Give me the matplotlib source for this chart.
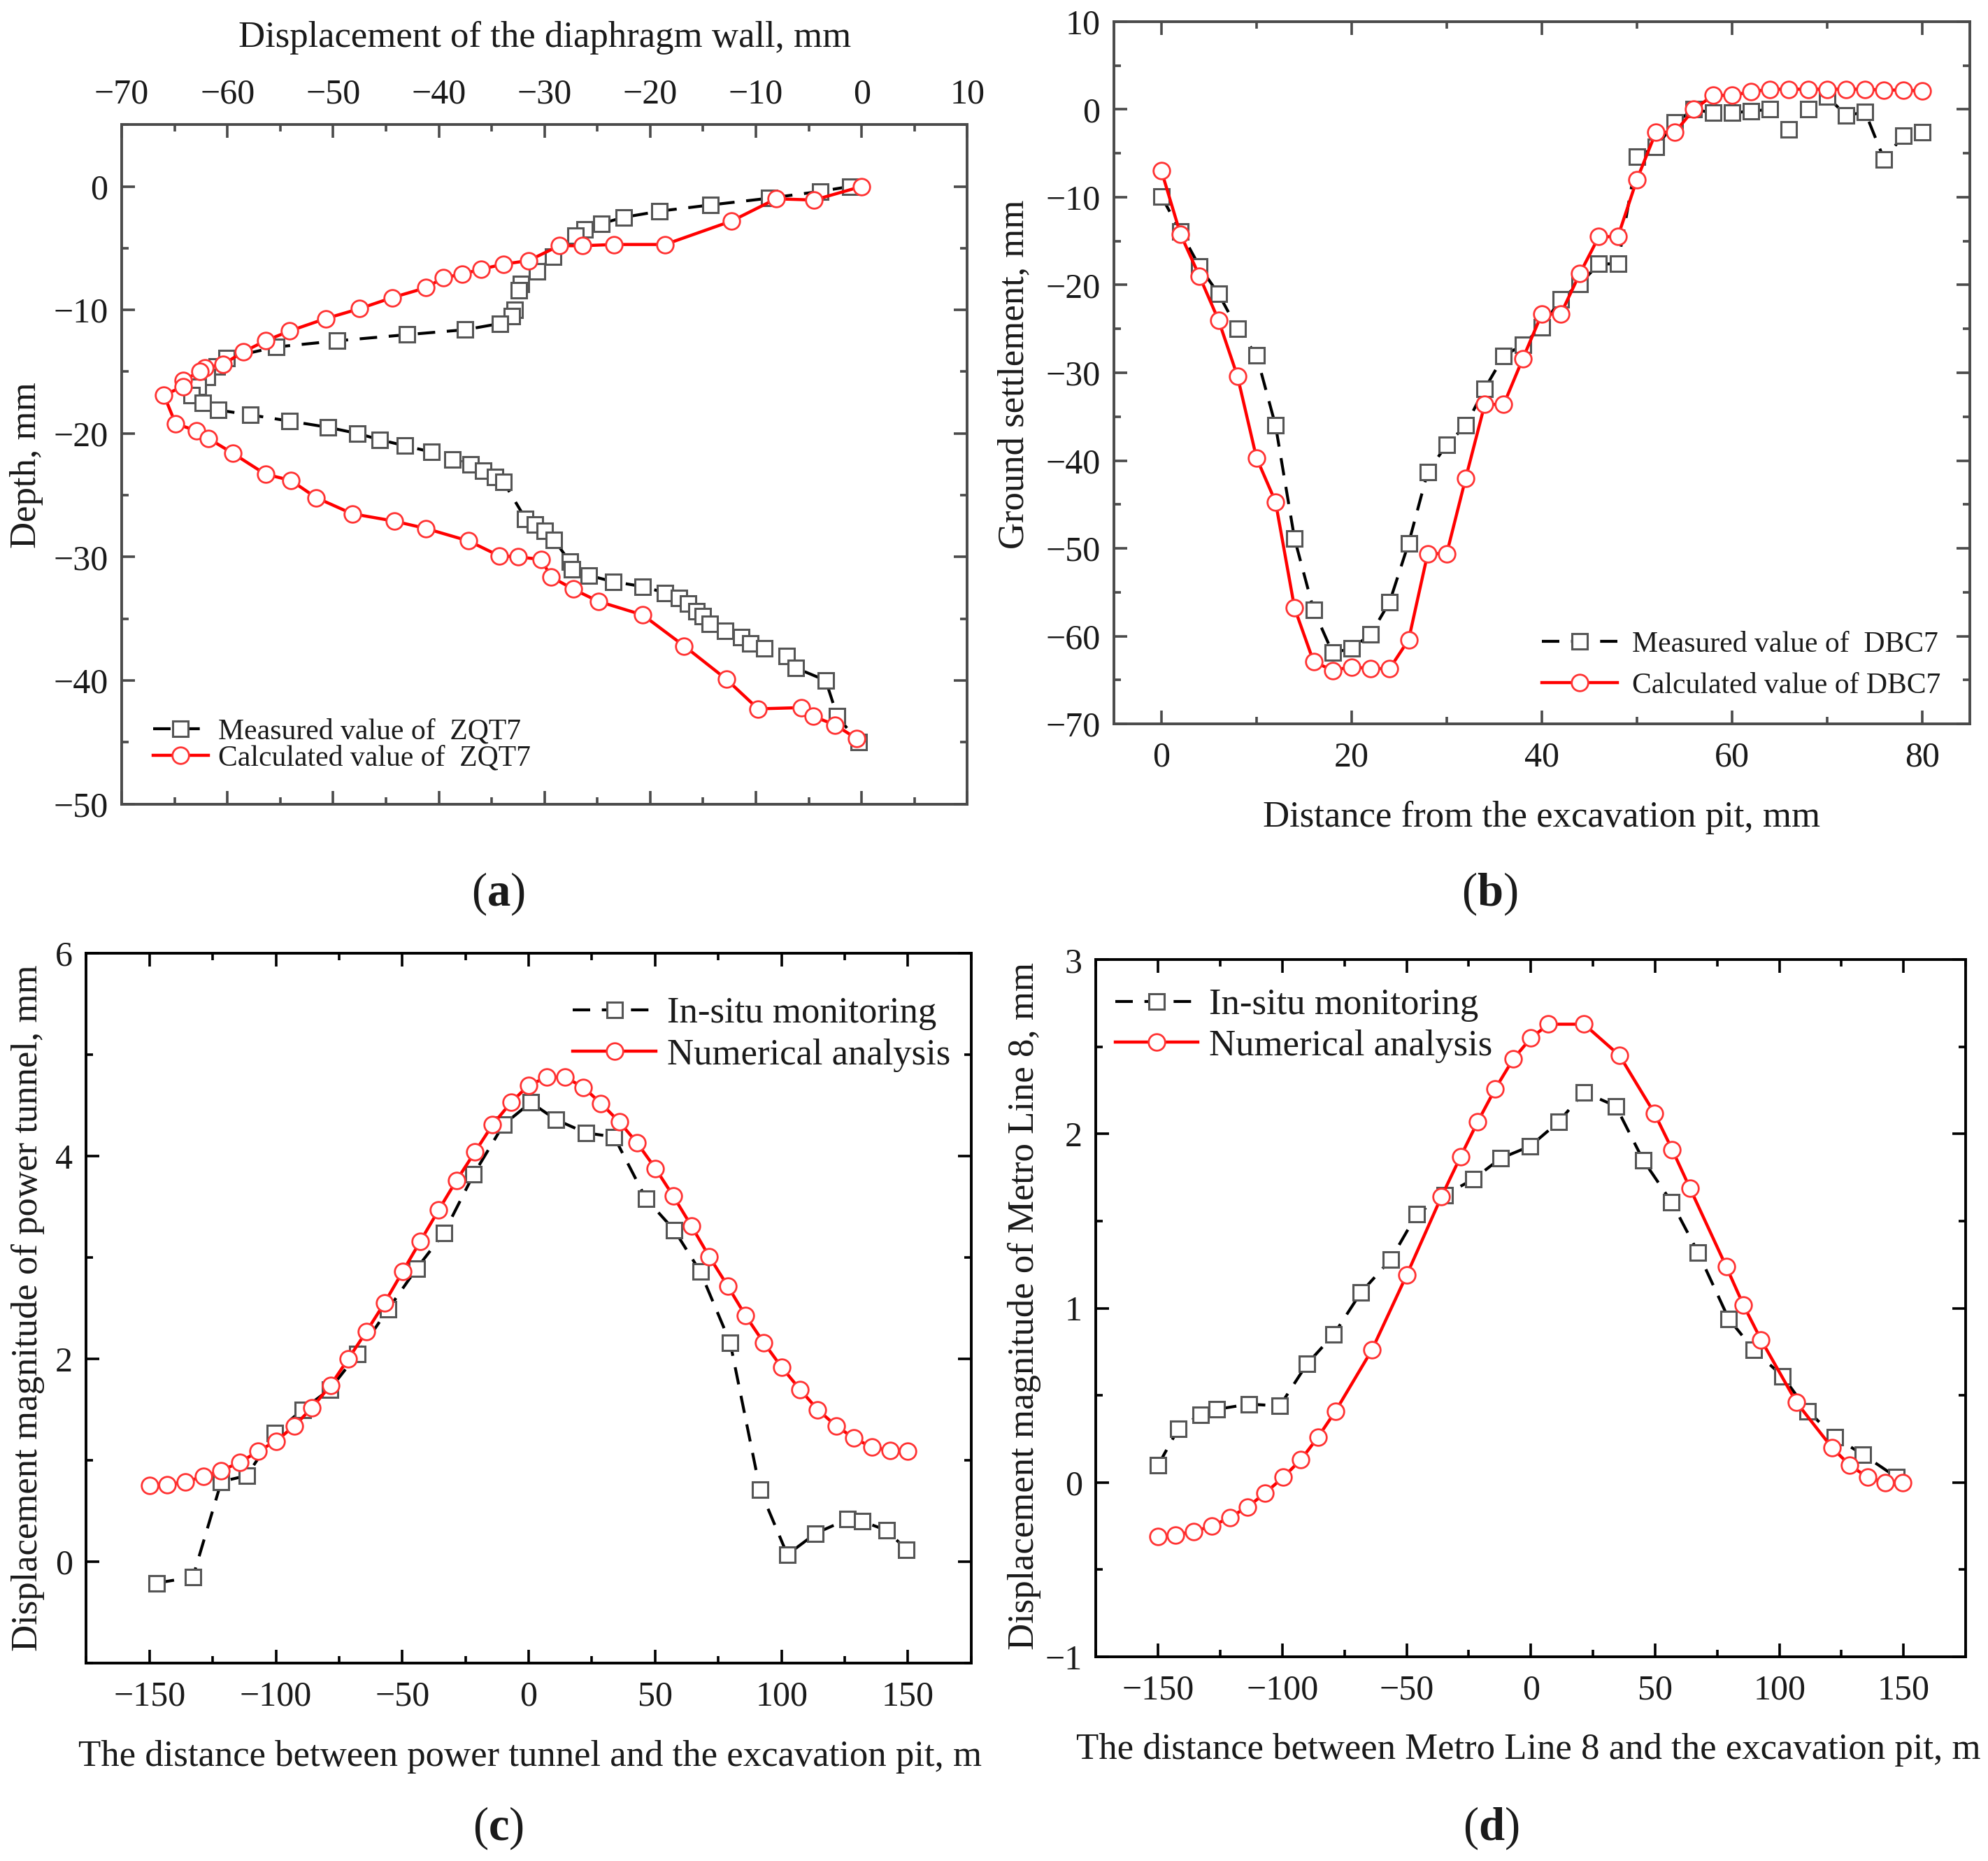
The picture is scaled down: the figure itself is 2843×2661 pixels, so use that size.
import matplotlib
matplotlib.use("Agg")
import matplotlib.pyplot as plt
from matplotlib.ticker import MultipleLocator

plt.rcParams['font.family'] = ['Liberation Serif', 'DejaVu Serif']
plt.rcParams['mathtext.fontset'] = 'custom'
plt.rcParams['mathtext.rm'] = 'Liberation Serif'
plt.rcParams['mathtext.bf'] = 'Liberation Serif:bold'

# (a) diaphragm wall ZQT7
zqt7_meas_disp = [-1.1, -3.9, -8.75, -14.3, -19.1, -22.5, -24.6, -26.2, -27.1, -29.2, -30.7,
                  -32.2, -32.4, -32.8, -33.1, -34.2, -37.5, -43.0, -49.6, -55.4, -60.1, -61.0,
                  -61.9, -62.8, -63.4, -62.3, -60.9, -57.8, -54.1, -50.5, -47.7, -45.6, -43.2,
                  -40.7, -38.7, -37.0, -35.8, -34.7, -33.9, -31.8, -30.9, -30.0, -29.1, -27.6,
                  -27.4, -25.8, -23.5, -20.7, -18.6, -17.3, -16.4, -15.6, -15.0, -14.4, -12.9,
                  -11.4, -10.5, -9.2, -7.1, -6.2, -3.4, -2.3, -0.3]
zqt7_meas_depth = [0, -0.4, -0.95, -1.5, -2.0, -2.5, -3.0, -3.5, -4.0, -5.7, -6.9,
                   -7.9, -8.4, -10.0, -10.5, -11.1, -11.6, -12.0, -12.5, -13.0, -13.9, -14.6,
                   -15.4, -16.2, -16.9, -17.5, -18.1, -18.5, -19.0, -19.5, -20.0, -20.5, -21.0,
                   -21.5, -22.1, -22.5, -23.0, -23.5, -23.9, -26.9, -27.4, -27.9, -28.6, -30.4,
                   -31.0, -31.5, -32.0, -32.4, -32.9, -33.3, -33.8, -34.4, -34.8, -35.4, -36.0,
                   -36.5, -37.0, -37.4, -38.0, -39.0, -40.0, -42.9, -45.0]
zqt7_calc_disp = [0, -4.5, -8.1, -12.3, -18.6, -23.4, -26.4, -28.6, -31.5, -33.9, -36.0,
                  -37.8, -39.6, -41.2, -44.4, -47.5, -50.7, -54.1, -56.4, -58.5, -60.4, -62.1,
                  -62.6, -64.2, -64.2, -66.0, -64.9, -62.9, -61.8, -59.5, -56.4, -54.0, -51.6,
                  -48.2, -44.2, -41.2, -37.2, -34.3, -32.5, -30.3, -29.4, -27.3, -24.9, -20.7,
                  -16.8, -12.8, -9.8, -5.7, -4.6, -2.5, -0.5]
zqt7_calc_depth = [0, -1.1, -1.0, -2.8, -4.7, -4.7, -4.8, -4.8, -6.0, -6.3, -6.7,
                   -7.1, -7.4, -8.2, -9.0, -9.9, -10.7, -11.7, -12.5, -13.4, -14.4, -14.7,
                   -15.0, -15.7, -16.2, -16.9, -19.2, -19.8, -20.4, -21.6, -23.3, -23.8, -25.2,
                   -26.5, -27.1, -27.7, -28.7, -29.9, -30.0, -30.2, -31.6, -32.6, -33.6, -34.7,
                   -37.2, -39.9, -42.3, -42.2, -42.9, -43.6, -44.7]

# (b) ground settlement DBC7
dbc7_dist = [0, 2, 4, 6, 8, 10, 12, 14, 16, 18, 20, 22, 24, 26, 28, 30, 32, 34, 36, 38, 40,
             42, 44, 46, 48, 50, 52, 54, 56, 58, 60, 62, 64, 66, 68, 70, 72, 74, 76, 78, 80]
dbc7_meas = [-9.9, -13.9, -17.9, -21.0, -25.0, -28.0, -36.0, -48.9, -57.0, -61.9, -61.4,
             -59.8, -56.1, -49.4, -41.3, -38.2, -36.0, -31.8, -28.1, -26.8, -24.8, -21.6,
             -19.9, -17.6, -17.6, -5.4, -4.3, -1.5, 0.0, -0.4, -0.4, -0.2, 0.0, -2.3, 0.0,
             1.5, -0.7, -0.3, -5.7, -3.0, -2.6]
dbc7_calc = [-7.0, -14.2, -19.0, -24.0, -30.4, -39.7, -44.7, -56.8, -62.9, -63.9, -63.5,
             -63.7, -63.7, -60.4, -50.6, -50.6, -42.0, -33.6, -33.6, -28.4, -23.3, -23.3,
             -18.7, -14.5, -14.5, -8.0, -2.6, -2.6, 0.0, 1.6, 1.6, 2.0, 2.3, 2.3, 2.3, 2.3,
             2.3, 2.3, 2.2, 2.2, 2.1]

# (c) power tunnel
pt_meas_x = [-147.1, -132.8, -121.6, -111.5, -100.3, -89.5, -78.7, -67.7, -55.6, -44.4,
             -33.6, -21.8, -10.0, 0.8, 10.8, 22.6, 33.8, 46.4, 57.6, 67.9, 79.7, 91.5,
             102.3, 113.5, 126.1, 131.8, 141.6, 149.4]
pt_meas_y = [-0.21, -0.15, 0.79, 0.85, 1.27, 1.50, 1.70, 2.05, 2.49, 2.89, 3.24, 3.82,
             4.31, 4.53, 4.36, 4.23, 4.19, 3.58, 3.27, 2.86, 2.16, 0.71, 0.07, 0.28, 0.42,
             0.40, 0.31, 0.12]
pt_calc_x = [-150.0, -142.9, -135.8, -128.6, -121.6, -114.3, -107.0, -100.0, -92.7, -85.7,
             -78.4, -71.4, -64.2, -57.1, -49.9, -42.9, -35.6, -28.6, -21.3, -14.3, -7.0,
             0.0, 7.3, 14.3, 21.6, 28.6, 35.8, 42.9, 50.1, 57.1, 64.4, 71.4, 78.7, 85.7,
             93.0, 100.0, 107.3, 114.3, 121.6, 128.6, 135.8, 142.9, 150.0]
pt_calc_y = [0.75, 0.76, 0.79, 0.84, 0.90, 0.98, 1.09, 1.19, 1.34, 1.52, 1.74, 2.00, 2.27,
             2.55, 2.86, 3.16, 3.47, 3.76, 4.04, 4.31, 4.53, 4.70, 4.78, 4.78, 4.68, 4.52,
             4.34, 4.13, 3.88, 3.61, 3.31, 3.01, 2.72, 2.43, 2.16, 1.92, 1.70, 1.50, 1.34,
             1.22, 1.13, 1.10, 1.09]

# (d) Metro Line 8
m8_meas_x = [-150.0, -141.8, -132.9, -126.5, -113.5, -101.0, -90.1, -79.3, -68.4, -56.4,
             -45.9, -34.7, -23.2, -12.2, -0.3, 11.2, 21.4, 34.2, 45.2, 56.6, 67.3, 79.6,
             89.8, 101.3, 111.5, 122.4, 133.7, 147.2]
m8_meas_y = [0.10, 0.31, 0.39, 0.42, 0.45, 0.44, 0.68, 0.85, 1.09, 1.28, 1.54, 1.65, 1.74,
             1.86, 1.93, 2.07, 2.24, 2.16, 1.85, 1.61, 1.32, 0.94, 0.76, 0.61, 0.41, 0.26,
             0.16, 0.03]
m8_calc_x = [-150.0, -142.9, -135.7, -128.3, -121.2, -114.0, -106.9, -99.7, -92.6, -85.7,
             -78.6, -64.0, -50.0, -36.0, -28.3, -21.4, -14.3, -7.1, 0.0, 7.1, 21.4, 35.7,
             49.7, 56.9, 64.0, 78.6, 85.5, 92.6, 106.9, 121.2, 128.3, 135.5, 142.6, 149.7]
m8_calc_y = [-0.31, -0.30, -0.28, -0.25, -0.20, -0.14, -0.06, 0.03, 0.13, 0.26, 0.41, 0.76,
             1.19, 1.64, 1.87, 2.07, 2.26, 2.43, 2.55, 2.63, 2.63, 2.45, 2.12, 1.91, 1.69,
             1.24, 1.02, 0.82, 0.46, 0.20, 0.10, 0.03, 0.0, 0.0]

TXT = '#1a1a1a'
TICK_FS = 36
LAB_FS = 38
TAG_FS = 48

meas_style = dict(color='black', lw=3.0, ls=(0, (6, 4)), marker='s', ms=16,
                  mfc='white', mec='#555555', mew=2.2)
calc_style = dict(color='#ff0000', lw=3.2, ls='-', marker='o', ms=17,
                  mfc='white', mec='#ff3333', mew=2.0)


def style_axes(ax, spine_color, top_labels=False):
    for sp in ax.spines.values():
        sp.set_linewidth(2.8)
        sp.set_color(spine_color)
    ax.tick_params(which='both', direction='in', top=True, right=True,
                   colors=spine_color, labelcolor=TXT, labelsize=TICK_FS, width=2.6)
    ax.tick_params(which='major', length=14, pad=14)
    ax.tick_params(which='minor', length=7)
    if top_labels:
        ax.tick_params(labeltop=True, labelbottom=False)


fig = plt.figure(figsize=(28.43, 26.61), dpi=100)

# ---- (a)
ax = fig.add_axes([0.0612, 0.568, 0.4254, 0.365])
ax.plot(zqt7_meas_disp, zqt7_meas_depth, label='Measured value of  ZQT7', **meas_style)
ax.plot(zqt7_calc_disp, zqt7_calc_depth, label='Calculated value of  ZQT7', **calc_style)
ax.set_xlim(-70, 10)
ax.set_ylim(-50, 5)
ax.xaxis.set_major_locator(MultipleLocator(10))
ax.xaxis.set_minor_locator(MultipleLocator(5))
ax.yaxis.set_major_locator(MultipleLocator(10))
ax.yaxis.set_minor_locator(MultipleLocator(5))
style_axes(ax, '#4a4a4a', top_labels=True)
ax.legend(loc='lower left', bbox_to_anchor=(0.037, 0.047), frameon=False, fontsize=30,
          handlelength=1.9, handletextpad=0.35, labelspacing=0.0, borderpad=0,
          borderaxespad=0, labelcolor=TXT)
fig.text(0.2742, 0.9796, 'Displacement of the diaphragm wall, mm', fontsize=LAB_FS,
         color=TXT, ha='center', va='center')
fig.text(0.0135, 0.75, 'Depth, mm', fontsize=LAB_FS, color=TXT, rotation=90,
         ha='center', va='center')
fig.text(0.2506, 0.5198, r'($\mathbf{a}$)', fontsize=TAG_FS, color=TXT, ha='center', va='center')

# ---- (b)
ax = fig.add_axes([0.5603, 0.611, 0.4305, 0.3774])
ax.plot(dbc7_dist, dbc7_meas, label='Measured value of  DBC7', **meas_style)
ax.plot(dbc7_dist, dbc7_calc, label='Calculated value of DBC7', **calc_style)
ax.set_xlim(-5, 85)
ax.set_ylim(-70, 10)
ax.xaxis.set_major_locator(MultipleLocator(20))
ax.xaxis.set_minor_locator(MultipleLocator(10))
ax.yaxis.set_major_locator(MultipleLocator(10))
ax.yaxis.set_minor_locator(MultipleLocator(5))
style_axes(ax, '#4a4a4a')
ax.tick_params(axis='x', which='major', pad=18)
ax.legend(loc='lower left', bbox_to_anchor=(0.50, 0.035), frameon=False, fontsize=30,
          handlelength=2.6, handletextpad=0.5, labelspacing=0.5, borderpad=0,
          borderaxespad=0, labelcolor=TXT)
fig.text(0.5102, 0.799, 'Ground settlement, mm', fontsize=LAB_FS, color=TXT, rotation=90,
         ha='center', va='center')
fig.text(0.7755, 0.5606, 'Distance from the excavation pit, mm', fontsize=LAB_FS,
         color=TXT, ha='center', va='center')
fig.text(0.7494, 0.5198, r'($\mathbf{b}$)', fontsize=TAG_FS, color=TXT, ha='center', va='center')

# ---- (c)
ax = fig.add_axes([0.0434, 0.1063, 0.4451, 0.3814])
ax.plot(pt_meas_x, pt_meas_y, label='In-situ monitoring', **meas_style)
ax.plot(pt_calc_x, pt_calc_y, label='Numerical analysis', **calc_style)
ax.set_xlim(-175, 175)
ax.set_ylim(-1, 6)
ax.xaxis.set_major_locator(MultipleLocator(50))
ax.xaxis.set_minor_locator(MultipleLocator(25))
ax.yaxis.set_major_locator(MultipleLocator(2))
ax.yaxis.set_minor_locator(MultipleLocator(1))
style_axes(ax, 'black')
ax.tick_params(axis='x', which='major', pad=18)
ax.legend(loc='upper left', bbox_to_anchor=(0.55, 0.939), frameon=False, fontsize=38,
          handlelength=2.25, handletextpad=0.3, labelspacing=0.22, borderpad=0,
          borderaxespad=0, labelcolor=TXT)
fig.text(0.014, 0.297, 'Displacement magnitude of power tunnel, mm', fontsize=LAB_FS,
         color=TXT, rotation=90, ha='center', va='center')
fig.text(0.2666, 0.0559, 'The distance between power tunnel and the excavation pit, m',
         fontsize=LAB_FS, color=TXT, ha='center', va='center')
fig.text(0.2506, 0.0177, r'($\mathbf{c}$)', fontsize=TAG_FS, color=TXT, ha='center', va='center')

# ---- (d)
ax = fig.add_axes([0.5513, 0.1097, 0.4375, 0.3746])
ax.plot(m8_meas_x, m8_meas_y, label='In-situ monitoring', **meas_style)
ax.plot(m8_calc_x, m8_calc_y, label='Numerical analysis', **calc_style)
ax.set_xlim(-175, 175)
ax.set_ylim(-1, 3)
ax.xaxis.set_major_locator(MultipleLocator(50))
ax.xaxis.set_minor_locator(MultipleLocator(25))
ax.yaxis.set_major_locator(MultipleLocator(1))
ax.yaxis.set_minor_locator(MultipleLocator(0.5))
style_axes(ax, 'black')
ax.tick_params(axis='x', which='major', pad=18)
ax.legend(loc='upper left', bbox_to_anchor=(0.022, 0.959), frameon=False, fontsize=38,
          handlelength=2.25, handletextpad=0.3, labelspacing=0.2, borderpad=0,
          borderaxespad=0, labelcolor=TXT)
fig.text(0.5153, 0.2984, 'Displacement magnitude of Metro Line 8, mm', fontsize=LAB_FS,
         color=TXT, rotation=90, ha='center', va='center')
fig.text(0.7690, 0.0599, 'The distance between Metro Line 8 and the excavation pit, m',
         fontsize=LAB_FS, color=TXT, ha='center', va='center')
fig.text(0.75, 0.0177, r'($\mathbf{d}$)', fontsize=TAG_FS, color=TXT, ha='center', va='center')

fig.savefig('out.png', dpi=100)
